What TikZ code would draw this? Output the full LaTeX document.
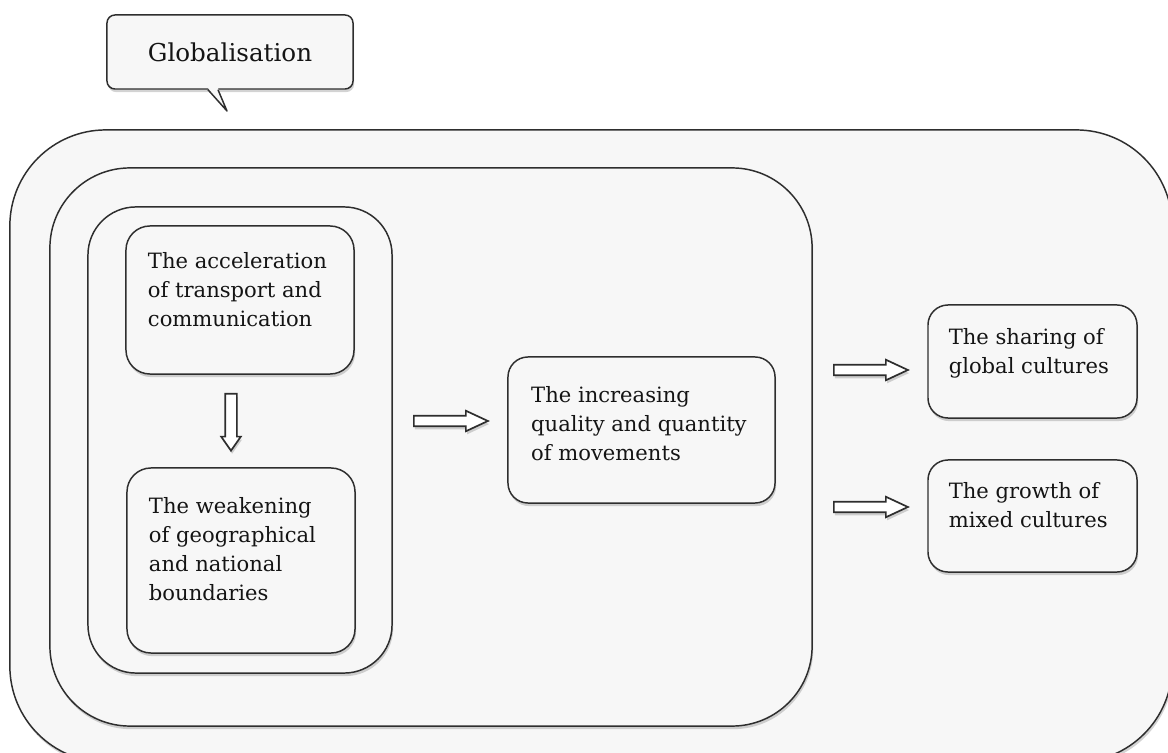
\documentclass[tikz,border=0pt]{standalone}
\usepackage{fontspec}
\setmainfont{DejaVu Serif}
\usetikzlibrary{positioning,shapes.arrows,shadows}
\definecolor{paper}{HTML}{F7F7F7}
\definecolor{edge}{HTML}{2E2E2E}

\begin{document}
\begin{tikzpicture}[x=0.025cm,y=-0.025cm,
    every node/.style={draw=edge,line width=1.05pt,fill=paper},
    dshadow/.style={drop shadow={shadow xshift=0.8pt,shadow yshift=-2.2pt,opacity=.35}},
    layer/.style={rectangle,dshadow},
    topic/.style={rectangle,rounded corners=0.6cm,dshadow},
    topictext/.style={draw=none,fill=none,rectangle,inner sep=0pt,align=left,text=black!92,
        font=\fontsize{15}{20.6}\selectfont},
    callbox/.style={rectangle,rounded corners=0.2cm,minimum width=6.15cm,minimum height=1.85cm,
        text=black!92,font=\fontsize{17.5}{21}\selectfont,dshadow},
    fatarrow/.style={single arrow,draw=edge,fill=white,line width=1.2pt,inner sep=0.11cm,
        minimum height=1.85cm,single arrow head extend=0.125cm,
        single arrow tip angle=50,anchor=tail,dshadow}]

    \useasboundingbox (0,0) rectangle (1168,753);
    \clip (0,0) rectangle (1168,753);

    %callout
    \node[callbox] (glob) at (230,52) {Globalisation};
    \coordinate (tip) at (227,111);
    \fill[paper] ([xshift=-0.55cm,yshift=1.2pt]glob.south) -- (tip) -- ([xshift=-0.3cm,yshift=1.2pt]glob.south) -- cycle;
    \draw[edge,line width=1.05pt,line join=round] ([xshift=-0.55cm]glob.south) -- (tip) -- ([xshift=-0.3cm]glob.south);

    %nested frames
    \node[layer,rounded corners=2.4cm,minimum width=29.05cm,minimum height=15.8cm] (world) at (591,446) {};
    \node[layer,rounded corners=2cm,minimum width=19.05cm,minimum height=13.95cm] (flows) at (431,447) {};
    \node[layer,rounded corners=1.2cm,minimum width=7.6cm,minimum height=11.65cm] (drivers) at (240,440) {};

    %boxes
    \node[topic,minimum width=5.7cm,minimum height=3.7cm] (accel) at (240,300) {};
    \node[topic,minimum width=5.7cm,minimum height=4.625cm] (weak) at (241,560.5) {};
    \node[topic,rounded corners=0.5cm,minimum width=6.675cm,minimum height=3.65cm] (moves) at (641.5,430) {};
    \node[topic,rounded corners=0.5cm,minimum width=5.225cm,minimum height=2.825cm] (share) at (1032.5,361.5) {};
    \node[topic,rounded corners=0.5cm,minimum width=5.225cm,minimum height=2.8cm] (mixed) at (1032.5,516) {};

    %texts
    \node[topictext,below right=0.66cm and 0.55cm of accel.north west] (accelT) {The acceleration\\of transport and\\communication};
    \node[topictext,below right=0.74cm and 0.55cm of weak.north west] (weakT) {The weakening\\of geographical\\and national\\boundaries};
    \node[topictext,below right=0.74cm and 0.58cm of moves.north west] (movesT) {The increasing\\quality and quantity\\of movements};
    \node[topictext,below right=0.58cm and 0.52cm of share.north west] (shareT) {The sharing of\\global cultures};
    \node[topictext,below right=0.56cm and 0.52cm of mixed.north west] (mixedT) {The growth of\\mixed cultures};

    %arrows
    \node[fatarrow,shape border rotate=270,minimum height=1.42cm,inner sep=0.125cm,
        single arrow head extend=0.1cm,single arrow tip angle=70] (down) at (231,393) {};
    \node[fatarrow] (toMoves) at (413,421) {};
    \node[fatarrow] (toShare) at (833,370) {};
    \node[fatarrow] (toMixed) at (833,507) {};
\end{tikzpicture}
\end{document}
